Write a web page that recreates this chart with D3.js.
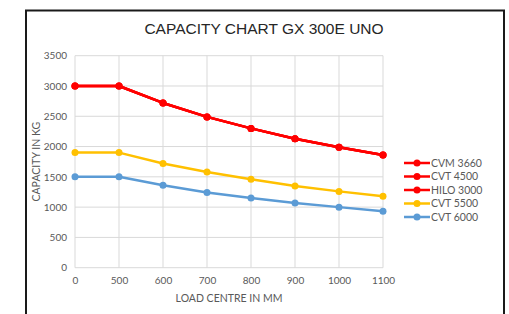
<!DOCTYPE html>
<html>
<head>
<meta charset="utf-8">
<script src="https://cdn.jsdelivr.net/npm/d3@7"></script>
<style>
  body { margin: 0; background: #fff; }
  svg { display: block; }
</style>
</head>
<body>
<div id="chart"></div>
<script>
// data
const loadCentres = ["0", "500", "600", "700", "800", "900", "1000", "1100"];
const cvm3660 = [3000, 3000, 2720, 2490, 2300, 2130, 1990, 1860];
const cvt4500 = [3000, 3000, 2720, 2490, 2300, 2130, 1990, 1860];
const hilo3000 = [3000, 3000, 2720, 2490, 2300, 2130, 1990, 1860];
const cvt5500 = [1900, 1900, 1720, 1580, 1460, 1350, 1260, 1180];
const cvt6000 = [1500, 1500, 1360, 1240, 1150, 1070, 1000, 930];
const yTicks = [0, 500, 1000, 1500, 2000, 2500, 3000, 3500];

const series = [
  { name: "CVM 3660", values: cvm3660, color: "#ff0000" },
  { name: "CVT 4500", values: cvt4500, color: "#ff0000" },
  { name: "HILO 3000", values: hilo3000, color: "#ff0000" },
  { name: "CVT 5500", values: cvt5500, color: "#ffc000" },
  { name: "CVT 6000", values: cvt6000, color: "#5b9bd5" }
];

const W = 509, H = 314;
const plot = { left: 75, right: 383, top: 55.7, bottom: 267.7 };
const font = "Lato, 'Open Sans', sans-serif";

const svg = d3.select("#chart").append("svg")
  .attr("width", W)
  .attr("height", H);

// outer frame
svg.append("rect")
  .attr("x", 26).attr("y", 10.5)
  .attr("width", 478).attr("height", 320)
  .attr("fill", "#fff")
  .attr("stroke", "#1a1a1a")
  .attr("stroke-width", 2);

const x = d3.scalePoint()
  .domain(loadCentres)
  .range([plot.left, plot.right]);

const y = d3.scaleLinear()
  .domain([0, 3500])
  .range([plot.bottom, plot.top]);

// gridlines
svg.append("g")
  .selectAll("line.h")
  .data(yTicks)
  .join("line")
  .attr("x1", plot.left).attr("x2", plot.right)
  .attr("y1", d => y(d)).attr("y2", d => y(d))
  .attr("stroke", "#d9d9d9").attr("stroke-width", 1);

svg.append("g")
  .selectAll("line.v")
  .data(loadCentres)
  .join("line")
  .attr("x1", d => x(d)).attr("x2", d => x(d))
  .attr("y1", plot.top).attr("y2", plot.bottom)
  .attr("stroke", "#d9d9d9").attr("stroke-width", 1);

// axes (labels only, Excel style)
const yAxis = svg.append("g")
  .attr("transform", `translate(${plot.left - 8},0)`)
  .call(d3.axisLeft(y).tickValues(yTicks).tickFormat(d3.format("d")).tickSize(0).tickPadding(0));
yAxis.select(".domain").remove();
yAxis.selectAll("text")
  .attr("fill", "#595959")
  .style("font-family", font)
  .style("font-size", "10px");

const xAxis = svg.append("g")
  .attr("transform", `translate(0,${plot.bottom + 9})`)
  .call(d3.axisBottom(x).tickSize(0).tickPadding(0));
xAxis.select(".domain").remove();
xAxis.selectAll("text")
  .attr("fill", "#595959")
  .style("font-family", font)
  .style("font-size", "10px");

// lines and markers
const line = d3.line()
  .x((d, i) => x(loadCentres[i]))
  .y(d => y(d));

series.forEach(s => {
  svg.append("path")
    .datum(s.values)
    .attr("fill", "none")
    .attr("stroke", s.color)
    .attr("stroke-width", 2.5)
    .attr("stroke-linejoin", "round")
    .attr("d", line);

  svg.append("g")
    .selectAll("circle")
    .data(s.values)
    .join("circle")
    .attr("cx", (d, i) => x(loadCentres[i]))
    .attr("cy", d => y(d))
    .attr("r", 3.5)
    .attr("fill", s.color);
});

// title
svg.append("text")
  .attr("x", 264)
  .attr("y", 34)
  .attr("text-anchor", "middle")
  .attr("fill", "#262626")
  .style("font-family", "'Liberation Sans', Arial, sans-serif")
  .style("font-size", "15.5px")
  .text("CAPACITY CHART GX 300E UNO");

// axis titles
svg.append("text")
  .attr("transform", "rotate(-90)")
  .attr("x", -(plot.top + plot.bottom) / 2)
  .attr("y", 40)
  .attr("text-anchor", "middle")
  .attr("fill", "#595959")
  .style("font-family", font)
  .style("font-size", "10.5px")
  .text("CAPACITY IN KG");

svg.append("text")
  .attr("x", (plot.left + plot.right) / 2)
  .attr("y", 302)
  .attr("text-anchor", "middle")
  .attr("fill", "#595959")
  .style("font-family", font)
  .style("font-size", "10.5px")
  .text("LOAD CENTRE IN MM");

// legend
const legend = svg.append("g")
  .attr("transform", "translate(404,163)");

series.forEach((s, i) => {
  const ly = i * 13.5;
  legend.append("line")
    .attr("x1", 0).attr("x2", 26)
    .attr("y1", ly).attr("y2", ly)
    .attr("stroke", s.color)
    .attr("stroke-width", 2.5);
  legend.append("circle")
    .attr("cx", 13).attr("cy", ly)
    .attr("r", 3.5)
    .attr("fill", s.color);
  legend.append("text")
    .attr("x", 27)
    .attr("y", ly)
    .attr("dy", "0.35em")
    .attr("fill", "#595959")
    .style("font-family", font)
    .style("font-size", "10.5px")
    .text(s.name);
});
</script>
</body>
</html>
